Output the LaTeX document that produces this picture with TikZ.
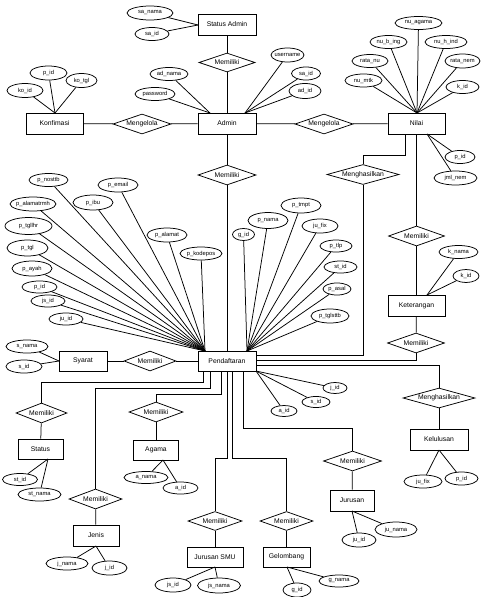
\documentclass[tikz,border=0pt]{standalone}
\usepackage{fontspec}
\setmainfont{Liberation Sans}
\usetikzlibrary{shapes.geometric}
\newcommand{\zw}[1]{\makebox[0pt]{#1}}
\tikzset{
 base/.style={draw, fill=white, line width=0.75pt, inner sep=0pt},
 ent/.style={base, rectangle, font=\fontsize{6.8}{7}\selectfont},
 rel/.style={base, diamond, font=\fontsize{6.8}{7}\selectfont},
 attr/.style={base, ellipse, font=\fontsize{5.8}{6}\selectfont},
 ln/.style={line width=0.75pt},
}
\newcommand{\mkent}[5]{\node[ent,minimum width=#4pt,minimum height=#5pt] (#1) at (#2) {#3};}
\newcommand{\mkrel}[5]{\node[rel,minimum width=#4pt,minimum height=#5pt] (#1) at (#2) {\zw{#3}};}
\newcommand{\mkattr}[5]{\node[attr,minimum width=#4pt,minimum height=#5pt] (#1) at (#2) {\zw{#3}};}
\begin{document}
\begin{tikzpicture}[x=1pt,y=-1pt]
\useasboundingbox (0,0) rectangle (480,597);
% entities
\mkent{sadm}{227,24.5}{Status Admin}{58}{21}
\mkent{admin}{227,123.5}{Admin}{58}{21}
\mkent{konf}{54.5,123.5}{Konfimasi}{57}{21}
\mkent{nilai}{416.5,123.5}{Nilai}{57}{21}
\mkent{ket}{416.5,305.5}{Keterangan}{57}{21}
\mkent{pend}{227,361}{Pendaftaran}{58}{20}
\mkent{syarat}{83,361}{Syarat}{48}{20}
\mkent{status}{40.5,449}{Status}{45}{20}
\mkent{agama}{156,450}{Agama}{45}{20}
\mkent{jenis}{96,535.5}{Jenis}{46}{21}
\mkent{jsmu}{215,557}{Jurusan SMU}{56}{20}
\mkent{gel}{286.5,557}{Gelombang}{47}{20}
\mkent{jurusan}{352,500.5}{Jurusan}{44}{21}
\mkent{kelulusan}{439,439.5}{Kelulusan}{58}{21}
% relations
\mkrel{rsa}{227,62.5}{Memiliki}{56}{19}
\mkrel{rmk}{142,124}{Mengelola}{58}{20}
\mkrel{rmn}{324,124}{Mengelola}{58}{20}
\mkrel{rap}{227,175}{Memiliki}{58}{20}
\mkrel{rnh}{363,174.5}{Menghasilkan}{72}{20}
\mkrel{rnk}{416.5,236}{Memiliki}{56}{20}
\mkrel{rkp}{416,343}{Memiliki}{57}{20}
\mkrel{rsy}{150,361}{Memiliki}{52}{20}
\mkrel{rst}{41.5,413}{Memiliki}{51}{20}
\mkrel{rag}{156,412}{Memiliki}{54}{20}
\mkrel{rje}{95.5,499}{Memiliki}{53}{20}
\mkrel{rjs}{215,521}{Memiliki}{54}{19}
\mkrel{rge}{286.5,521}{Memiliki}{53}{19}
\mkrel{rju}{352.5,461}{Memiliki}{58}{20}
\mkrel{rkl}{439,398}{Menghasilkan}{72}{20}
% attributes
\mkattr{sanama}{150,13}{sa\_nama}{46}{14}
\mkattr{said}{152,34}{sa\_id}{34}{13}
\mkattr{kpid}{48.5,73}{p\_id}{37}{14}
\mkattr{kotgl}{81.5,80.5}{ko\_tgl}{31}{14}
\mkattr{koid}{25,90.5}{ko\_id}{36}{14}
\mkattr{adnama}{169,74}{ad\_nama}{38}{13}
\mkattr{password}{155,94}{password}{40}{13}
\mkattr{username}{287.5,55}{username}{33}{14}
\mkattr{asaid}{306,73.5}{sa\_id}{29}{13}
\mkattr{adid}{305,91}{ad\_id}{32}{15}
\mkattr{nuagama}{418.5,23}{nu\_agama}{47}{13}
\mkattr{nubing}{388.5,42}{nu\_b\_ing}{37}{13}
\mkattr{nuhind}{446,42}{nu\_h\_ind}{42}{13}
\mkattr{ratanu}{370,61}{rata\_nu}{36}{13}
\mkattr{ratanem}{462.5,61}{rata\_nem}{35}{14}
\mkattr{numtk}{363.5,80.5}{nu\_mtk}{37}{13}
\mkattr{nkid}{462.5,87}{k\_id}{33}{13}
\mkattr{npid}{460,157}{p\_id}{30}{13}
\mkattr{jmlnem}{455.5,178}{jml\_nem}{43}{14}
\mkattr{knama}{458.5,252}{k\_nama}{39}{13}
\mkattr{kkid}{466,276}{k\_id}{26}{13}
\mkattr{pnosttb}{48.5,180}{p\_nosttb}{39}{13}
\mkattr{pemail}{118,185}{p\_email}{40}{14}
\mkattr{pibu}{93,202.5}{p\_ibu}{40}{15}
\mkattr{palamatrmh}{33,204}{p\_alamatrmh}{46}{14}
\mkattr{ptgllhr}{28.5,226}{p\_tgllhr}{47}{17}
\mkattr{ptgl}{27.5,248}{p\_tgl}{41}{16}
\mkattr{payah}{32,268.5}{p\_ayah}{40}{15}
\mkattr{ppid}{39.5,287}{p\_id}{35}{12}
\mkattr{pjsid}{48,301}{js\_id}{34}{12}
\mkattr{pjuid}{66,319}{ju\_id}{34}{12}
\mkattr{palamat}{167,235}{p\_alamat}{40}{14}
\mkattr{pkodepos}{201,253.5}{p\_kodepos}{42}{13}
\mkattr{pgid}{243.5,234.5}{g\_id}{22}{12}
\mkattr{pnama}{268,220.5}{p\_nama}{40}{16}
\mkattr{ptmpt}{301,205.5}{p\_tmpt}{40}{15}
\mkattr{pjufix}{320,226}{ju\_fix}{36}{14}
\mkattr{ptlp}{336,246}{p\_tlp}{32}{12}
\mkattr{pstid}{340.5,267}{st\_id}{33}{12}
\mkattr{pasal}{337,289}{p\_asal}{28}{12}
\mkattr{ptglsttb}{330,316}{p\_tglsttb}{38}{14}
\mkattr{snama}{27,346.5}{s\_nama}{42}{13}
\mkattr{sid}{24,366.5}{s\_id}{36}{13}
\mkattr{pjid}{335,388}{j\_id}{24}{11}
\mkattr{psid}{316,402}{s\_id}{28}{11}
\mkattr{paid}{284,411}{a\_id}{26}{11}
\mkattr{stid}{20,479.5}{st\_id}{35}{12}
\mkattr{stnama}{39.5,494.5}{st\_nama}{43}{13}
\mkattr{anama}{146,477.5}{a\_nama}{44}{12}
\mkattr{aaid}{180.5,488}{a\_id}{35}{12}
\mkattr{jnama}{67,563.5}{j\_nama}{42}{13}
\mkattr{jjid}{109.5,568}{j\_id}{35}{14}
\mkattr{jsid}{173,585}{js\_id}{36}{14}
\mkattr{jsnama}{219,585.5}{js\_nama}{43}{15}
\mkattr{ggid}{297,590}{g\_id}{28}{14}
\mkattr{gnama}{339,581}{g\_nama}{40}{12}
\mkattr{junama}{396,529.5}{ju\_nama}{42}{15}
\mkattr{jujid}{359,540}{ju\_id}{34}{14}
\mkattr{kjufix}{423,481.5}{ju\_fix}{38}{13}
\mkattr{kpid2}{461.5,478.5}{p\_id}{33}{13}
% ports
\coordinate (sadmL) at (198,25);
\coordinate (konfT) at (55,113);
\coordinate (admTL) at (210,113);
\coordinate (admTR) at (245,113);
\coordinate (nilT) at (417,113);
\coordinate (nilB1) at (405,134);
\coordinate (nilB2) at (427,134);
\coordinate (ketT) at (427,295);
\coordinate (pTL) at (205,351);
\coordinate (pTR) at (247,351);
\coordinate (pBR) at (256,371);
\coordinate (pB1) at (203,371);
\coordinate (pB2) at (210,371);
\coordinate (pB3) at (221,371);
\coordinate (pB4) at (227,371);
\coordinate (pB5) at (232,371);
\coordinate (pB6) at (243,371);
\coordinate (pR1) at (256,355);
\coordinate (pR2) at (256,360);
\coordinate (pR3) at (256,365);
\coordinate (syL) at (59,361);
\coordinate (stB) at (48,459);
\coordinate (agB) at (163,460);
\coordinate (jeB) at (96,546);
\coordinate (jsB) at (215,567);
\coordinate (geB) at (287,567);
\coordinate (juB) at (352,511);
\coordinate (klB) at (439,450);
% connectors
\begin{scope}[ln]
\draw (sadmL) -- (sanama); \draw (sadmL) -- (said);
\draw (sadm) -- (rsa) -- (admin);
\draw (konfT) -- (kpid); \draw (konfT) -- (kotgl); \draw (konfT) -- (koid);
\draw (konf) -- (rmk) -- (admin);
\draw (admin) -- (rmn) -- (nilai);
\draw (admTL) -- (adnama); \draw (admTL) -- (password);
\draw (admTR) -- (username); \draw (admTR) -- (asaid); \draw (admTR) -- (adid);
\foreach \a in {nuagama,nubing,nuhind,ratanu,ratanem,numtk,nkid} \draw (nilT) -- (\a);
\draw (nilB1) -- (405,155) -| (rnh.north);
\draw (nilai.south -| rnk.north) -- (rnk.north);
\draw (nilB2) -- (npid); \draw (nilB2) -- (jmlnem);
\draw (rnk) -- (ket);
\draw (ketT) -- (knama); \draw (ketT) -- (kkid);
\draw (ket) -- (rkp);
\draw (admin) -- (rap) -- (pend);
\foreach \a in {pnosttb,pemail,pibu,palamatrmh,ptgllhr,ptgl,payah,ppid,pjsid,pjuid,palamat,pkodepos} \draw (pTL) -- (\a);
\foreach \a in {pgid,pnama,ptmpt,pjufix,ptlp,pstid,pasal,ptglsttb} \draw (pTR) -- (\a);
\foreach \a in {pjid,psid,paid} \draw (pBR) -- (\a);
\draw (pR1) -| (rnh.south);
\draw (pR2) -| (rkp.south);
\draw (pR3) -| (rkl.north);
\draw (pend) -- (rsy) -- (syarat);
\draw (syL) -- (snama); \draw (syL) -- (sid);
\draw (pB1) -- (203,382) -| (rst.north);
\draw (rst) -- (status);
\draw (stB) -- (stid); \draw (stB) -- (stnama);
\draw (pB2) -- (210,388) -| (rje.north);
\draw (rje) -- (jenis);
\draw (jeB) -- (jnama); \draw (jeB) -- (jjid);
\draw (pB3) -- (221,394) -| (rag.north);
\draw (rag) -- (agama);
\draw (agB) -- (anama); \draw (agB) -- (aaid);
\draw (pB4) -- (227,458) -| (rjs.north);
\draw (rjs) -- (jsmu);
\draw (jsB) -- (jsid); \draw (jsB) -- (jsnama);
\draw (pB5) -- (232,458) -| (rge.north);
\draw (rge) -- (gel);
\draw (geB) -- (ggid); \draw (geB) -- (gnama);
\draw (pB6) -- (243,428) -| (rju.north);
\draw (rju) -- (jurusan);
\draw (juB) -- (jujid); \draw (juB) -- (junama);
\draw (rkl) -- (kelulusan);
\draw (klB) -- (kjufix); \draw (klB) -- (kpid2);
\end{scope}
\end{tikzpicture}
\end{document}
